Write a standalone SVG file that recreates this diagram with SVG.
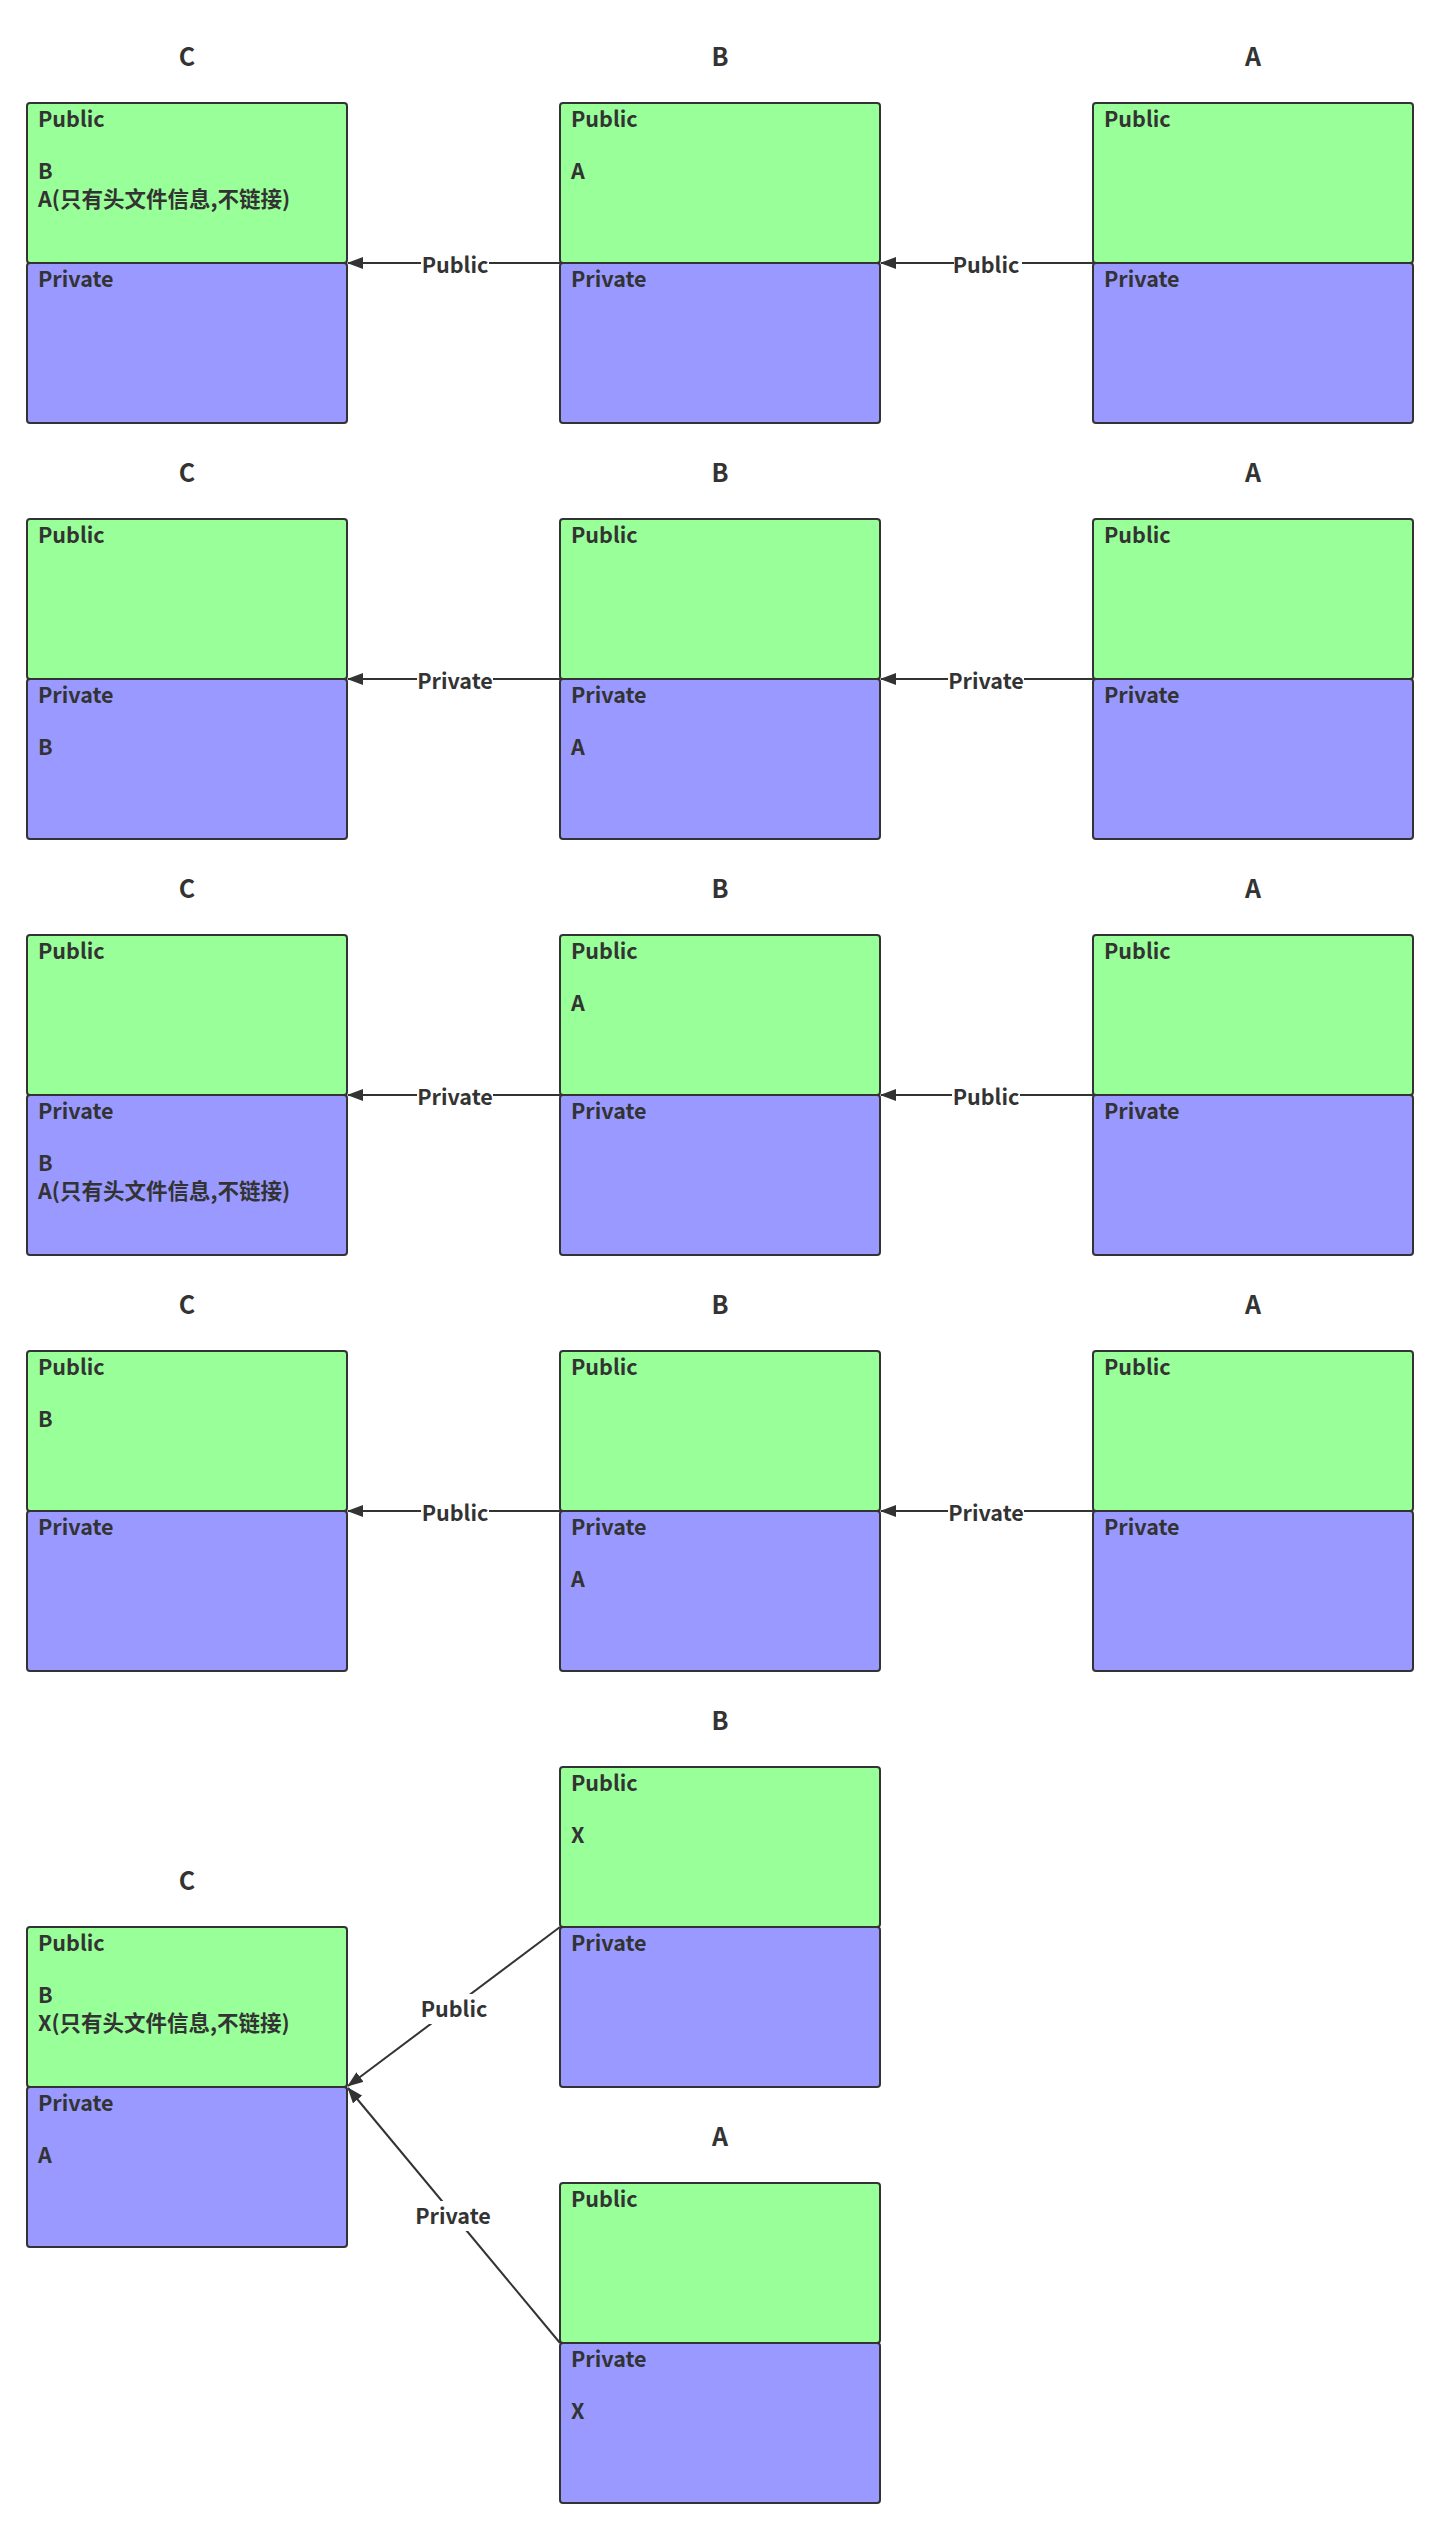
<svg xmlns="http://www.w3.org/2000/svg" width="1440" height="2529" viewBox="0 0 1440 2529">
<defs>
<style>
.pub{fill:#99FF99;stroke:#333;stroke-width:2}
.pri{fill:#9999FF;stroke:#333;stroke-width:2}
text{font-family:"Noto Sans CJK SC","Microsoft YaHei",sans-serif;font-weight:bold;fill:#333}
.t{font-size:21.5px}
.h{font-size:25px;text-anchor:middle}
.lbl{font-size:21.5px;text-anchor:middle}
.lb{fill:#fff;stroke:none}
.c{stroke:#333;stroke-width:2;fill:none;marker-end:url(#ar)}
</style>
<marker id="ar" viewBox="0 0 16 12" refX="15" refY="6" markerWidth="16" markerHeight="12" markerUnits="userSpaceOnUse" orient="auto">
<path d="M0,0 L16,6 L0,12 z" fill="#333"/>
</marker>
</defs>
<rect width="1440" height="2529" fill="#fff"/>

<!-- Row 1 -->
<g id="r1-C"><text class="h" x="187" y="66">C</text>
<rect class="pub" x="27" y="103" width="320" height="160" rx="3"/><rect class="pri" x="27" y="263" width="320" height="160" rx="3"/>
<text class="t" x="38" y="127">Public</text><text class="t" x="38" y="179">B</text><text class="t" x="38" y="207">A(只有头文件信息,不链接)</text>
<text class="t" x="38" y="287">Private</text></g>
<g id="r1-B"><text class="h" x="720" y="66">B</text>
<rect class="pub" x="560" y="103" width="320" height="160" rx="3"/><rect class="pri" x="560" y="263" width="320" height="160" rx="3"/>
<text class="t" x="571" y="127">Public</text><text class="t" x="571" y="179">A</text>
<text class="t" x="571" y="287">Private</text></g>
<g id="r1-A"><text class="h" x="1253" y="66">A</text>
<rect class="pub" x="1093" y="103" width="320" height="160" rx="3"/><rect class="pri" x="1093" y="263" width="320" height="160" rx="3"/>
<text class="t" x="1104" y="127">Public</text>
<text class="t" x="1104" y="287">Private</text></g>

<!-- Row 2 -->
<g id="r2-C"><text class="h" x="187" y="482">C</text>
<rect class="pub" x="27" y="519" width="320" height="160" rx="3"/><rect class="pri" x="27" y="679" width="320" height="160" rx="3"/>
<text class="t" x="38" y="543">Public</text>
<text class="t" x="38" y="703">Private</text><text class="t" x="38" y="755">B</text></g>
<g id="r2-B"><text class="h" x="720" y="482">B</text>
<rect class="pub" x="560" y="519" width="320" height="160" rx="3"/><rect class="pri" x="560" y="679" width="320" height="160" rx="3"/>
<text class="t" x="571" y="543">Public</text>
<text class="t" x="571" y="703">Private</text><text class="t" x="571" y="755">A</text></g>
<g id="r2-A"><text class="h" x="1253" y="482">A</text>
<rect class="pub" x="1093" y="519" width="320" height="160" rx="3"/><rect class="pri" x="1093" y="679" width="320" height="160" rx="3"/>
<text class="t" x="1104" y="543">Public</text>
<text class="t" x="1104" y="703">Private</text></g>

<!-- Row 3 -->
<g id="r3-C"><text class="h" x="187" y="898">C</text>
<rect class="pub" x="27" y="935" width="320" height="160" rx="3"/><rect class="pri" x="27" y="1095" width="320" height="160" rx="3"/>
<text class="t" x="38" y="959">Public</text>
<text class="t" x="38" y="1119">Private</text><text class="t" x="38" y="1171">B</text><text class="t" x="38" y="1199">A(只有头文件信息,不链接)</text></g>
<g id="r3-B"><text class="h" x="720" y="898">B</text>
<rect class="pub" x="560" y="935" width="320" height="160" rx="3"/><rect class="pri" x="560" y="1095" width="320" height="160" rx="3"/>
<text class="t" x="571" y="959">Public</text><text class="t" x="571" y="1011">A</text>
<text class="t" x="571" y="1119">Private</text></g>
<g id="r3-A"><text class="h" x="1253" y="898">A</text>
<rect class="pub" x="1093" y="935" width="320" height="160" rx="3"/><rect class="pri" x="1093" y="1095" width="320" height="160" rx="3"/>
<text class="t" x="1104" y="959">Public</text>
<text class="t" x="1104" y="1119">Private</text></g>

<!-- Row 4 -->
<g id="r4-C"><text class="h" x="187" y="1314">C</text>
<rect class="pub" x="27" y="1351" width="320" height="160" rx="3"/><rect class="pri" x="27" y="1511" width="320" height="160" rx="3"/>
<text class="t" x="38" y="1375">Public</text><text class="t" x="38" y="1427">B</text>
<text class="t" x="38" y="1535">Private</text></g>
<g id="r4-B"><text class="h" x="720" y="1314">B</text>
<rect class="pub" x="560" y="1351" width="320" height="160" rx="3"/><rect class="pri" x="560" y="1511" width="320" height="160" rx="3"/>
<text class="t" x="571" y="1375">Public</text>
<text class="t" x="571" y="1535">Private</text><text class="t" x="571" y="1587">A</text></g>
<g id="r4-A"><text class="h" x="1253" y="1314">A</text>
<rect class="pub" x="1093" y="1351" width="320" height="160" rx="3"/><rect class="pri" x="1093" y="1511" width="320" height="160" rx="3"/>
<text class="t" x="1104" y="1375">Public</text>
<text class="t" x="1104" y="1535">Private</text></g>

<!-- Row 5 -->
<g id="r5-B"><text class="h" x="720" y="1730">B</text>
<rect class="pub" x="560" y="1767" width="320" height="160" rx="3"/><rect class="pri" x="560" y="1927" width="320" height="160" rx="3"/>
<text class="t" x="571" y="1791">Public</text><text class="t" x="571" y="1843">X</text>
<text class="t" x="571" y="1951">Private</text></g>
<g id="r5-C"><text class="h" x="187" y="1890">C</text>
<rect class="pub" x="27" y="1927" width="320" height="160" rx="3"/><rect class="pri" x="27" y="2087" width="320" height="160" rx="3"/>
<text class="t" x="38" y="1951">Public</text><text class="t" x="38" y="2003">B</text><text class="t" x="38" y="2031">X(只有头文件信息,不链接)</text>
<text class="t" x="38" y="2111">Private</text><text class="t" x="38" y="2163">A</text></g>
<g id="r5-A"><text class="h" x="720" y="2146">A</text>
<rect class="pub" x="560" y="2183" width="320" height="160" rx="3"/><rect class="pri" x="560" y="2343" width="320" height="160" rx="3"/>
<text class="t" x="571" y="2207">Public</text>
<text class="t" x="571" y="2367">Private</text><text class="t" x="571" y="2419">X</text></g>

<g id="connectors">
<line class="c" x1="560" y1="263" x2="348" y2="263"/>
<rect class="lb" x="421" y="251" width="68" height="26"/><text class="lbl" x="455" y="273">Public</text>
<line class="c" x1="1093" y1="263" x2="881" y2="263"/>
<rect class="lb" x="954" y="251" width="68" height="26"/><text class="lbl" x="986" y="273">Public</text>

<line class="c" x1="560" y1="679" x2="348" y2="679"/>
<rect class="lb" x="417" y="667" width="76" height="26"/><text class="lbl" x="455" y="689">Private</text>
<line class="c" x1="1093" y1="679" x2="881" y2="679"/>
<rect class="lb" x="948" y="667" width="76" height="26"/><text class="lbl" x="986" y="689">Private</text>

<line class="c" x1="560" y1="1095" x2="348" y2="1095"/>
<rect class="lb" x="417" y="1083" width="76" height="26"/><text class="lbl" x="455" y="1105">Private</text>
<line class="c" x1="1093" y1="1095" x2="881" y2="1095"/>
<rect class="lb" x="952" y="1083" width="68" height="26"/><text class="lbl" x="986" y="1105">Public</text>

<line class="c" x1="560" y1="1511" x2="348" y2="1511"/>
<rect class="lb" x="421" y="1499" width="68" height="26"/><text class="lbl" x="455" y="1521">Public</text>
<line class="c" x1="1093" y1="1511" x2="881" y2="1511"/>
<rect class="lb" x="948" y="1499" width="76" height="26"/><text class="lbl" x="986" y="1521">Private</text>

<line class="c" x1="560" y1="1927" x2="348" y2="2086"/>
<rect class="lb" x="420" y="1994" width="68" height="30"/><text class="lbl" x="454" y="2017">Public</text>
<line class="c" x1="560" y1="2343" x2="348" y2="2088"/>
<rect class="lb" x="415" y="2201" width="76" height="30"/><text class="lbl" x="453" y="2224">Private</text>
</g>
</svg>
